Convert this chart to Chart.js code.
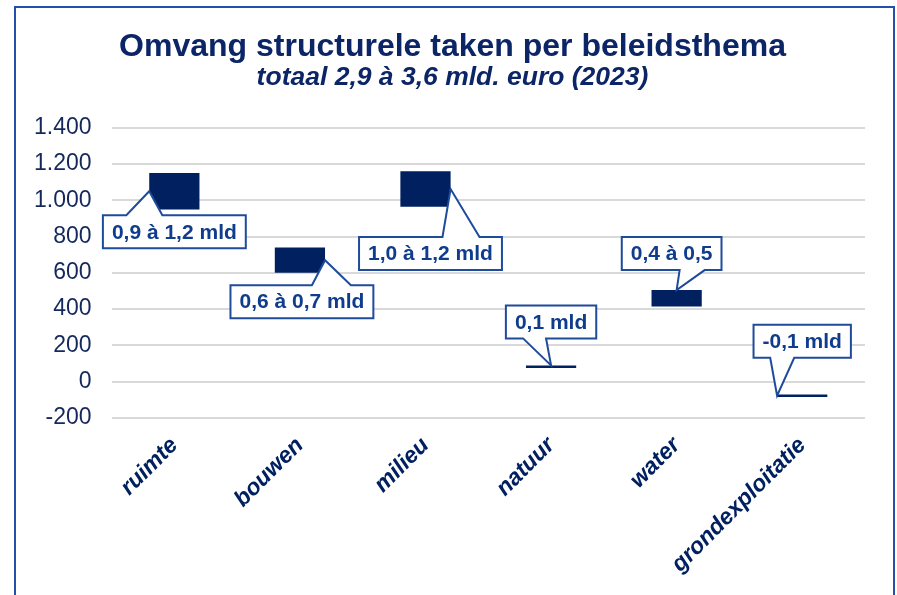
<!DOCTYPE html>
<html>
<head>
<meta charset="utf-8">
<script src="https://cdn.jsdelivr.net/npm/chart.js@4/dist/chart.umd.min.js"></script>
<style>
  body { margin: 0; background: #fff; }
  #wrap { width: 897px; height: 595px; position: relative; }
</style>
</head>
<body>
<div id="wrap"><canvas id="chart"></canvas></div>
<script>
// data (mln euro)
const categories = ['ruimte', 'bouwen', 'milieu', 'natuur', 'water', 'grondexploitatie'];
const lowValues = [950, 600, 965, 75, 415, -85];
const highValues = [1150, 740, 1160, 90, 505, -70];
const rangeLabels = ['0,9 à 1,2 mld', '0,6 à 0,7 mld', '1,0 à 1,2 mld', '0,1 mld', '0,4 à 0,5', '-0,1 mld'];

// where each callout sits relative to its bar
const callouts = [
    { tip: 'left', side: 'below', dx: 0, dy: 24, base: [-48, -12] },
    { tip: 'right', side: 'below', dx: 2, dy: 25, base: [10, 49] },
    { tip: 'right', side: 'below', dx: 5, dy: 48, base: [12, 49] },
    { tip: 'top', side: 'above', dx: 0, dy: -27, base: [-28, -5] },
    { tip: 'top', side: 'above', dx: -5, dy: -20, base: [8, 33] },
    { tip: 'left', side: 'above', dx: 0, dy: -38, base: [-32, -8] }
];

const navy = '#002060';
const boxBlue = '#1f4b9b';
const fontFamily = 'Arial, "Liberation Sans", sans-serif';

const calloutPlugin = {
    id: 'callouts',
    afterDatasetsDraw(chart) {
        const ctx = chart.ctx;
        const meta = chart.getDatasetMeta(0);
        ctx.save();
        ctx.font = 'bold 21px ' + fontFamily;
        meta.data.forEach(function (bar, i) {
            const c = callouts[i];
            const top = Math.min(bar.y, bar.base);
            const bottom = Math.max(bar.y, bar.base);
            let tx, ty;
            if (c.tip === 'left') { tx = bar.x - bar.width / 2; ty = (top + bottom) / 2; }
            else if (c.tip === 'right') { tx = bar.x + bar.width / 2; ty = (top + bottom) / 2; }
            else { tx = bar.x; ty = top; }

            const text = rangeLabels[i];
            const w = ctx.measureText(text).width + 18;
            const h = 33;
            const cx = bar.x + c.dx;
            const l = cx - w / 2, r = cx + w / 2;
            let bt, bb;
            if (c.side === 'below') { bt = ty + c.dy; bb = bt + h; }
            else { bb = ty + c.dy; bt = bb - h; }

            ctx.beginPath();
            if (c.side === 'below') {
                ctx.moveTo(l, bt);
                ctx.lineTo(cx + c.base[0], bt);
                ctx.lineTo(tx, ty);
                ctx.lineTo(cx + c.base[1], bt);
                ctx.lineTo(r, bt);
                ctx.lineTo(r, bb);
                ctx.lineTo(l, bb);
            } else {
                ctx.moveTo(l, bt);
                ctx.lineTo(r, bt);
                ctx.lineTo(r, bb);
                ctx.lineTo(cx + c.base[1], bb);
                ctx.lineTo(tx, ty);
                ctx.lineTo(cx + c.base[0], bb);
                ctx.lineTo(l, bb);
            }
            ctx.closePath();
            ctx.fillStyle = '#fff';
            ctx.fill();
            ctx.lineWidth = 2;
            ctx.strokeStyle = boxBlue;
            ctx.stroke();

            ctx.fillStyle = '#0f3c8c';
            ctx.textAlign = 'center';
            ctx.textBaseline = 'middle';
            ctx.fillText(text, cx, (bt + bb) / 2 + 1);
        });
        ctx.restore();
    }
};

const framePlugin = {
    id: 'frame',
    afterLayout(chart) {
        // the titles are centred a bit right of the plot in the original
        chart.boxes.forEach(function (b) {
            if (b.position === 'top' && !b.axis) b.left += 26;
        });
    },
    beforeDraw(chart) {
        const ctx = chart.ctx;
        ctx.save();
        ctx.fillStyle = '#fff';
        ctx.fillRect(0, 0, chart.width, chart.height);
        ctx.strokeStyle = '#2350a8';
        ctx.lineWidth = 2;
        ctx.strokeRect(15, 7, 879, 600);
        ctx.restore();
    }
};

function dutchNumber(v) {
    return String(v).replace(/\B(?=(\d{3})+(?!\d))/g, '.');
}

new Chart(document.getElementById('chart'), {
    type: 'bar',
    data: {
        labels: categories,
        datasets: [{
            data: categories.map(function (c, i) { return [lowValues[i], highValues[i]]; }),
            backgroundColor: navy,
            borderWidth: 0,
            categoryPercentage: 0.8,
            barPercentage: 0.5
        }]
    },
    options: {
        responsive: true,
        maintainAspectRatio: false,
        animation: false,
        layout: { padding: { left: 14, right: 32, bottom: 11 } },
        plugins: {
            legend: { display: false },
            tooltip: { enabled: false },
            title: {
                display: true,
                text: 'Omvang structurele taken per beleidsthema',
                color: '#0b2566',
                font: { family: fontFamily, size: 32, weight: 'bold', lineHeight: 1.05 },
                padding: { top: 30, bottom: 0 }
            },
            subtitle: {
                display: true,
                text: 'totaal 2,9 à 3,6 mld. euro (2023)',
                color: '#0b2566',
                font: { family: fontFamily, size: 26.5, weight: 'bold', style: 'italic', lineHeight: 1.1 },
                padding: { bottom: 35 }
            }
        },
        scales: {
            y: {
                min: -200,
                max: 1400,
                border: { display: false },
                grid: { color: '#d9d9d9', lineWidth: 2, drawTicks: false },
                ticks: {
                    stepSize: 200,
                    padding: 20,
                    color: '#14285c',
                    font: { family: fontFamily, size: 23 },
                    callback: function (v) { return dutchNumber(v); }
                }
            },
            x: {
                border: { display: false },
                grid: { display: false },
                ticks: {
                    minRotation: 45,
                    maxRotation: 45,
                    padding: 6,
                    color: navy,
                    font: { family: fontFamily, size: 23, weight: 'bold', style: 'italic' }
                }
            }
        }
    },
    plugins: [framePlugin, calloutPlugin]
});
</script>
</body>
</html>
